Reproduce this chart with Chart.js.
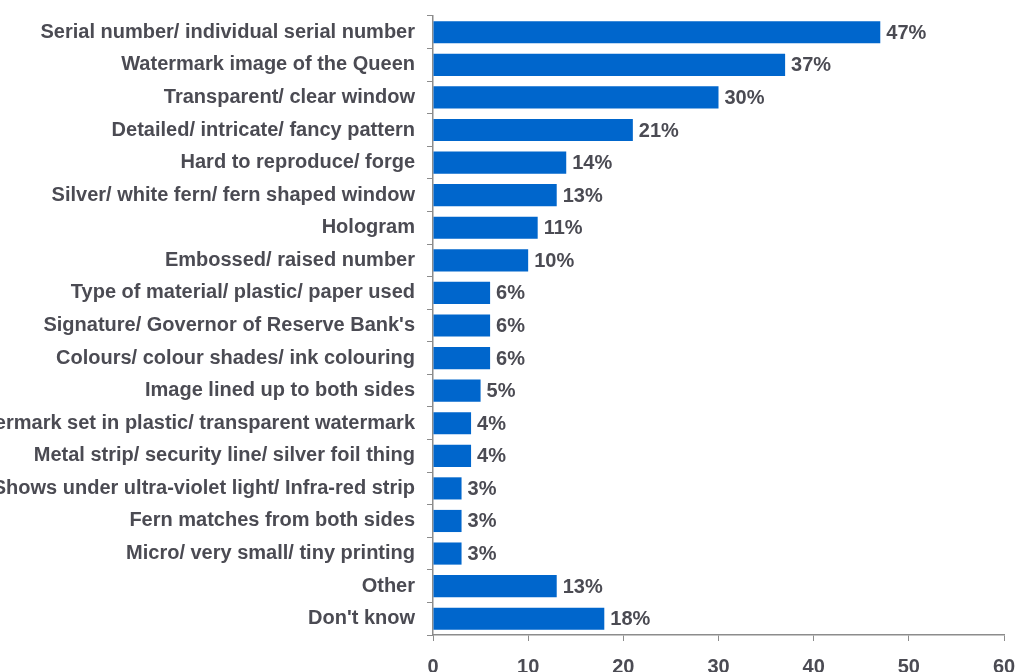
<!DOCTYPE html>
<html>
<head>
<meta charset="utf-8">
<script src="https://cdn.jsdelivr.net/npm/chart.js@4.4.0/dist/chart.umd.min.js"></script>
<style>
  html, body { margin: 0; padding: 0; background: #fff; }
  #wrap { width: 1017px; height: 672px; }
</style>
</head>
<body>
<div id="wrap"><canvas id="chart" width="1017" height="672"></canvas></div>
<script>
// Security features recalled, percent of respondents
const features = [
  'Serial number/ individual serial number',
  'Watermark image of the Queen',
  'Transparent/ clear window',
  'Detailed/ intricate/ fancy pattern',
  'Hard to reproduce/ forge',
  'Silver/ white fern/ fern shaped window',
  'Hologram',
  'Embossed/ raised number',
  'Type of material/ plastic/ paper used',
  "Signature/ Governor of Reserve Bank's",
  'Colours/ colour shades/ ink colouring',
  'Image lined up to both sides',
  'Watermark set in plastic/ transparent watermark',
  'Metal strip/ security line/ silver foil thing',
  'Shows under ultra-violet light/ Infra-red strip',
  'Fern matches from both sides',
  'Micro/ very small/ tiny printing',
  'Other',
  "Don't know"
];
const percentages = [47, 37, 30, 21, 14, 13, 11, 10, 6, 6, 6, 5, 4, 4, 3, 3, 3, 13, 18];
const xTicks = [0, 10, 20, 30, 40, 50, 60];

const textColor = '#4b4b53';
const axisColor = '#8c8c8c';
const font = { family: 'Liberation Sans, Arial, sans-serif', size: 20, weight: 'bold' };

// writes "NN%" to the right of each bar
const valueLabels = {
  id: 'valueLabels',
  afterDatasetsDraw(chart) {
    const ctx = chart.ctx;
    const meta = chart.getDatasetMeta(0);
    ctx.save();
    ctx.font = `bold ${font.size}px ${font.family}`;
    ctx.fillStyle = textColor;
    ctx.textAlign = 'left';
    ctx.textBaseline = 'middle';
    meta.data.forEach((bar, i) => {
      ctx.fillText(percentages[i] + '%', bar.x + 6, bar.y + 1);
    });
    ctx.restore();
  }
};

new Chart(document.getElementById('chart'), {
  type: 'bar',
  data: {
    labels: features,
    datasets: [{
      data: percentages,
      backgroundColor: '#0066cc',
      borderWidth: 0,
      barPercentage: 0.68,
      categoryPercentage: 1
    }]
  },
  options: {
    indexAxis: 'y',
    responsive: false,
    animation: false,
    layout: { padding: { top: 16, right: 13, left: 0, bottom: 0 } },
    plugins: {
      legend: { display: false },
      tooltip: { enabled: false }
    },
    scales: {
      x: {
        min: 0,
        max: 60,
        afterBuildTicks(scale) {
          scale.ticks = xTicks.map(v => ({ value: v }));
        },
        afterFit(scale) {
          scale.height = 37;
          // let the end labels hang past the plot edges
          scale.paddingLeft = 0;
          scale.paddingRight = 0;
        },
        grid: {
          drawOnChartArea: false,
          drawTicks: true,
          tickLength: 6,
          color: axisColor
        },
        border: { color: axisColor, width: 1.5 },
        ticks: { color: textColor, font: font, padding: 14 }
      },
      y: {
        afterFit(scale) {
          scale.width = 433;
          scale.paddingTop = 0;
          scale.paddingBottom = 0;
        },
        grid: {
          drawOnChartArea: false,
          drawTicks: true,
          tickLength: 6,
          color: axisColor,
          offset: true
        },
        border: { color: axisColor, width: 1.5 },
        ticks: {
          color: textColor,
          font: font,
          padding: 12,
          autoSkip: false
        }
      }
    }
  },
  plugins: [valueLabels]
});
</script>
</body>
</html>
